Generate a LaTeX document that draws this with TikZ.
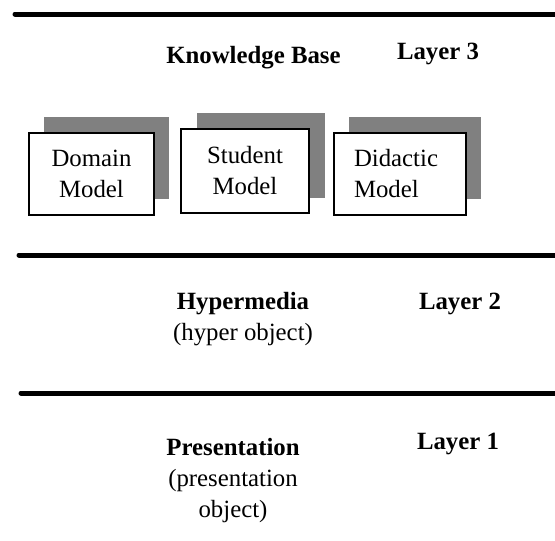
\documentclass[tikz,border=0pt]{standalone}
\usepackage{fontspec}
\setmainfont{Liberation Serif}
\begin{document}
\begin{tikzpicture}[x=1pt,y=-1pt,
  every node/.style={font=\fontsize{24.8}{31}\selectfont, inner sep=0pt},
  rule/.style={line width=5pt, line cap=round},
  modelbox/.style={draw=black, line width=1.2pt, fill=white, align=center, minimum height=82pt},
  shadowbox/.style={fill=shadowgray, minimum height=82pt},
  title/.style={font=\fontsize{24.8}{31}\selectfont\bfseries, anchor=base},
  lbl/.style={anchor=base, align=center}
]
\definecolor{shadowgray}{HTML}{808080}
\useasboundingbox (0,0) rectangle (555,541);
% layer separators
\coordinate (r1a) at (15,14);  \coordinate (r1b) at (560,14);
\coordinate (r2a) at (19,255); \coordinate (r2b) at (560,255);
\coordinate (r3a) at (21,393); \coordinate (r3b) at (560,393);
\draw[rule] (r1a) -- (r1b);
\draw[rule] (r2a) -- (r2b);
\draw[rule] (r3a) -- (r3b);
% layer 3
\node[title] (kb) at (253.5,63) {Knowledge Base};
\node[title] (l3) at (438,59) {Layer 3};
% shadows
\node[shadowbox, minimum width=125pt] (sd) at (106,158) {};
\node[shadowbox, minimum width=128pt, minimum height=85pt] (ss) at (261,155) {};
\node[shadowbox, minimum width=132pt] (sc) at (415,158) {};
% model boxes
\node[modelbox, minimum width=125pt] (dm) at (91.5,174) {Domain\\Model};
\node[modelbox, minimum width=128pt, minimum height=84pt] (sm) at (245,171) {Student\\Model};
\node[modelbox, align=left, text width=92pt, inner xsep=20pt] (dd) at (400,174) {Didactic\\Model};
% layer 2
\node[lbl] (hm) at (243,340) {\textbf{Hypermedia}\\(hyper object)};
\node[title] (l2) at (460,309) {Layer 2};
% layer 1
\node[lbl] (pr) at (233,517) {\textbf{Presentation}\\(presentation\\object)};
\node[title] (l1) at (458,449) {Layer 1};
\end{tikzpicture}
\end{document}
